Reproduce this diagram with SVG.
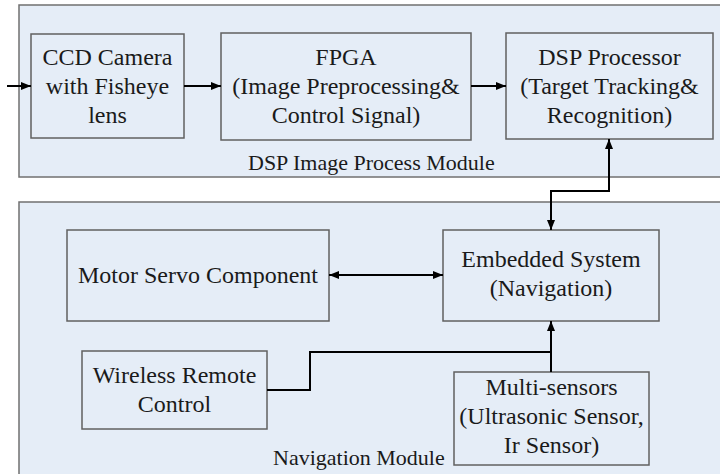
<svg xmlns="http://www.w3.org/2000/svg" width="720" height="474" viewBox="0 0 720 474">
<style>
.mod{fill:#e5edf7;stroke:#707070;stroke-width:1.5}
.box{fill:#e5edf7;stroke:#606060;stroke-width:1.5}
.t{font-family:'Liberation Serif','DejaVu Serif',serif;font-size:24px;fill:#1a1a1a;text-anchor:middle}
.ml{font-family:'Liberation Serif','DejaVu Serif',serif;font-size:22px;fill:#1a1a1a}
.c{fill:none;stroke:#000;stroke-width:2}
</style>
<defs>
<marker id="ah" viewBox="0 0 10 8" refX="10" refY="4" markerWidth="10" markerHeight="8" markerUnits="userSpaceOnUse" orient="auto-start-reverse">
<path d="M0,0 L10,4 L0,8 z" fill="#000"/>
</marker>
</defs>
<g id="dsp-module">
<rect class="mod" x="19" y="5" width="710" height="172"/>
<text class="ml" x="248" y="170">DSP Image Process Module</text>
</g>
<g id="nav-module">
<rect class="mod" x="19" y="202" width="710" height="280"/>
<text class="ml" x="273" y="465">Navigation Module</text>
</g>
<g id="ccd">
<rect class="box" x="31" y="34" width="153" height="104"/>
<text class="t" x="107.5" y="65">CCD Camera</text>
<text class="t" x="107.5" y="94">with Fisheye</text>
<text class="t" x="107.5" y="123">lens</text>
</g>
<g id="fpga">
<rect class="box" x="221" y="33" width="250" height="107"/>
<text class="t" x="346" y="65">FPGA</text>
<text class="t" x="346" y="94">(Image Preprocessing&amp;</text>
<text class="t" x="346" y="123">Control Signal)</text>
</g>
<g id="dsp">
<rect class="box" x="506" y="33" width="207" height="106"/>
<text class="t" x="609.5" y="65">DSP Processor</text>
<text class="t" x="609.5" y="94">(Target Tracking&amp;</text>
<text class="t" x="609.5" y="123">Recognition)</text>
</g>
<g id="motor">
<rect class="box" x="67" y="230" width="262" height="91"/>
<text class="t" x="198" y="283">Motor Servo Component</text>
</g>
<g id="embedded">
<rect class="box" x="443" y="230" width="216" height="91"/>
<text class="t" x="551" y="267">Embedded System</text>
<text class="t" x="551" y="296">(Navigation)</text>
</g>
<g id="wireless">
<rect class="box" x="82" y="351" width="185" height="78"/>
<text class="t" x="174.5" y="383">Wireless Remote</text>
<text class="t" x="174.5" y="412">Control</text>
</g>
<g id="sensors">
<rect class="box" x="454" y="372" width="195" height="93"/>
<text class="t" x="551.5" y="395">Multi-sensors</text>
<text class="t" x="551.5" y="424">(Ultrasonic Sensor,</text>
<text class="t" x="551.5" y="453">Ir Sensor)</text>
</g>
<g id="connectors">
<line class="c" x1="7" y1="86" x2="31" y2="86" marker-end="url(#ah)"/>
<line class="c" x1="184" y1="86" x2="221" y2="86" marker-end="url(#ah)"/>
<line class="c" x1="471" y1="86" x2="506" y2="86" marker-end="url(#ah)"/>
<polyline class="c" points="609,139 609,191 551,191 551,230" marker-start="url(#ah)" marker-end="url(#ah)"/>
<line class="c" x1="329" y1="275" x2="443" y2="275" marker-start="url(#ah)" marker-end="url(#ah)"/>
<line class="c" x1="551" y1="372" x2="551" y2="321" marker-end="url(#ah)"/>
<polyline class="c" points="267,390 310,390 310,352 551,352"/>
</g>
</svg>
